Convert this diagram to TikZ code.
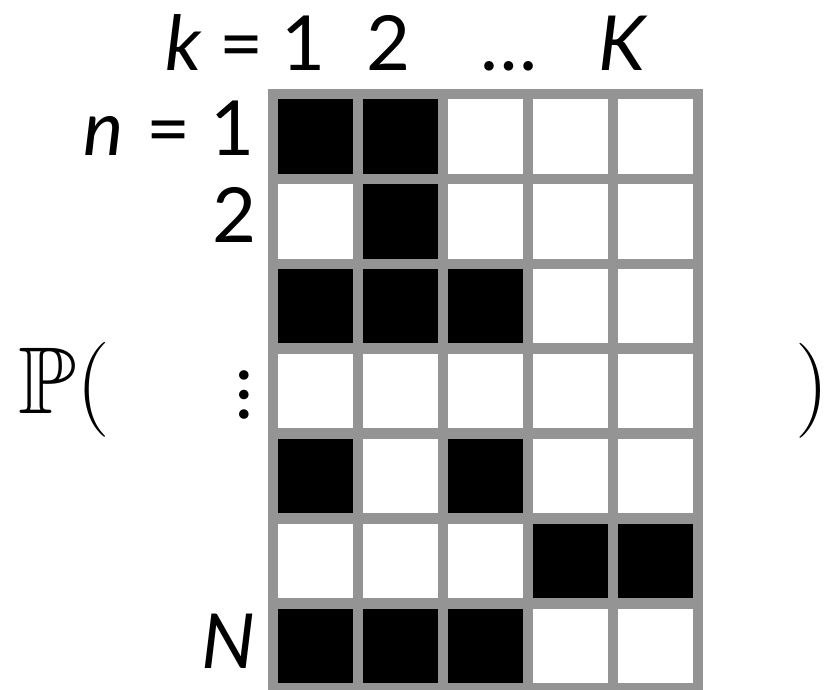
\RequirePackage{fix-cm}
\documentclass[tikz,border=0pt]{standalone}
\usepackage{amssymb}
\usepackage{fontspec}
\setmainfont{Lato}
\definecolor{gridgray}{RGB}{148,148,148}

\begin{document}
\begin{tikzpicture}[
  x=1pt, y=-1pt,
  %% styles
  lbl/.style      = {inner sep=0pt, anchor=base, font=\fontsize{76}{80}\selectfont},
  ilbl/.style     = {lbl, font=\fontsize{76}{80}\selectfont\itshape},
  bigmath/.style  = {inner sep=0pt, font=\fontsize{95}{100}\selectfont},
  filled/.style   = {fill=black},
  gridline/.style = {draw=gridgray, line width=10.5pt, line cap=rect},
]
\useasboundingbox (0,0) rectangle (826,689);

%% ── Black cells (row/column) ───────────────────────────────────
\foreach \r/\c in {1/1,1/2,2/2,3/1,3/2,3/3,5/1,5/3,6/4,6/5,7/1,7/2,7/3}
  \fill[filled] ({273+85*(\c-1)},{94+84.9*(\r-1)}) rectangle ++(85,84.9);

%% ── Grid lines ─────────────────────────────────────────────────
\foreach \i in {0,...,5}
  \draw[gridline] ({273+85*\i},94) -- ++(0,594.3);
\foreach \j in {0,...,7}
  \draw[gridline] (273,{94+84.9*\j}) -- ++(425,0);

%% ── Column labels ──────────────────────────────────────────────
\node[ilbl] (kvar)  at (183.5,70) {k};
\node[lbl]  (keq)   at (242,70)   {=};
\node[lbl]  (kone)  at (304,70)   {1};
\node[lbl]  (ktwo)  at (389,70)   {2};
\node[lbl]  (kdots) at (509,70)   {\dots};
\node[ilbl] (kmax)  at (622,70)   {K};

%% ── Row labels ─────────────────────────────────────────────────
\node[ilbl] (nvar)  at (104,155)  {n};
\node[lbl]  (neq)   at (169,155)  {=};
\node[lbl]  (none)  at (233,155)  {1};
\node[lbl]  (ntwo)  at (235,242)  {2};
\node[lbl, anchor=center] (ndots) at (244,395) {\rotatebox{90}{\dots}};
\node[ilbl] (nmax)  at (228.5,668) {N};

%% ── Probability brackets ───────────────────────────────────────
\node[bigmath, anchor=base west] (prob)  at (18,413) {$\mathbb{P}($};
\node[bigmath, anchor=base] (close) at (812,414) {\hspace*{-9pt}$)$\hspace*{-9pt}};

\end{tikzpicture}
\end{document}
